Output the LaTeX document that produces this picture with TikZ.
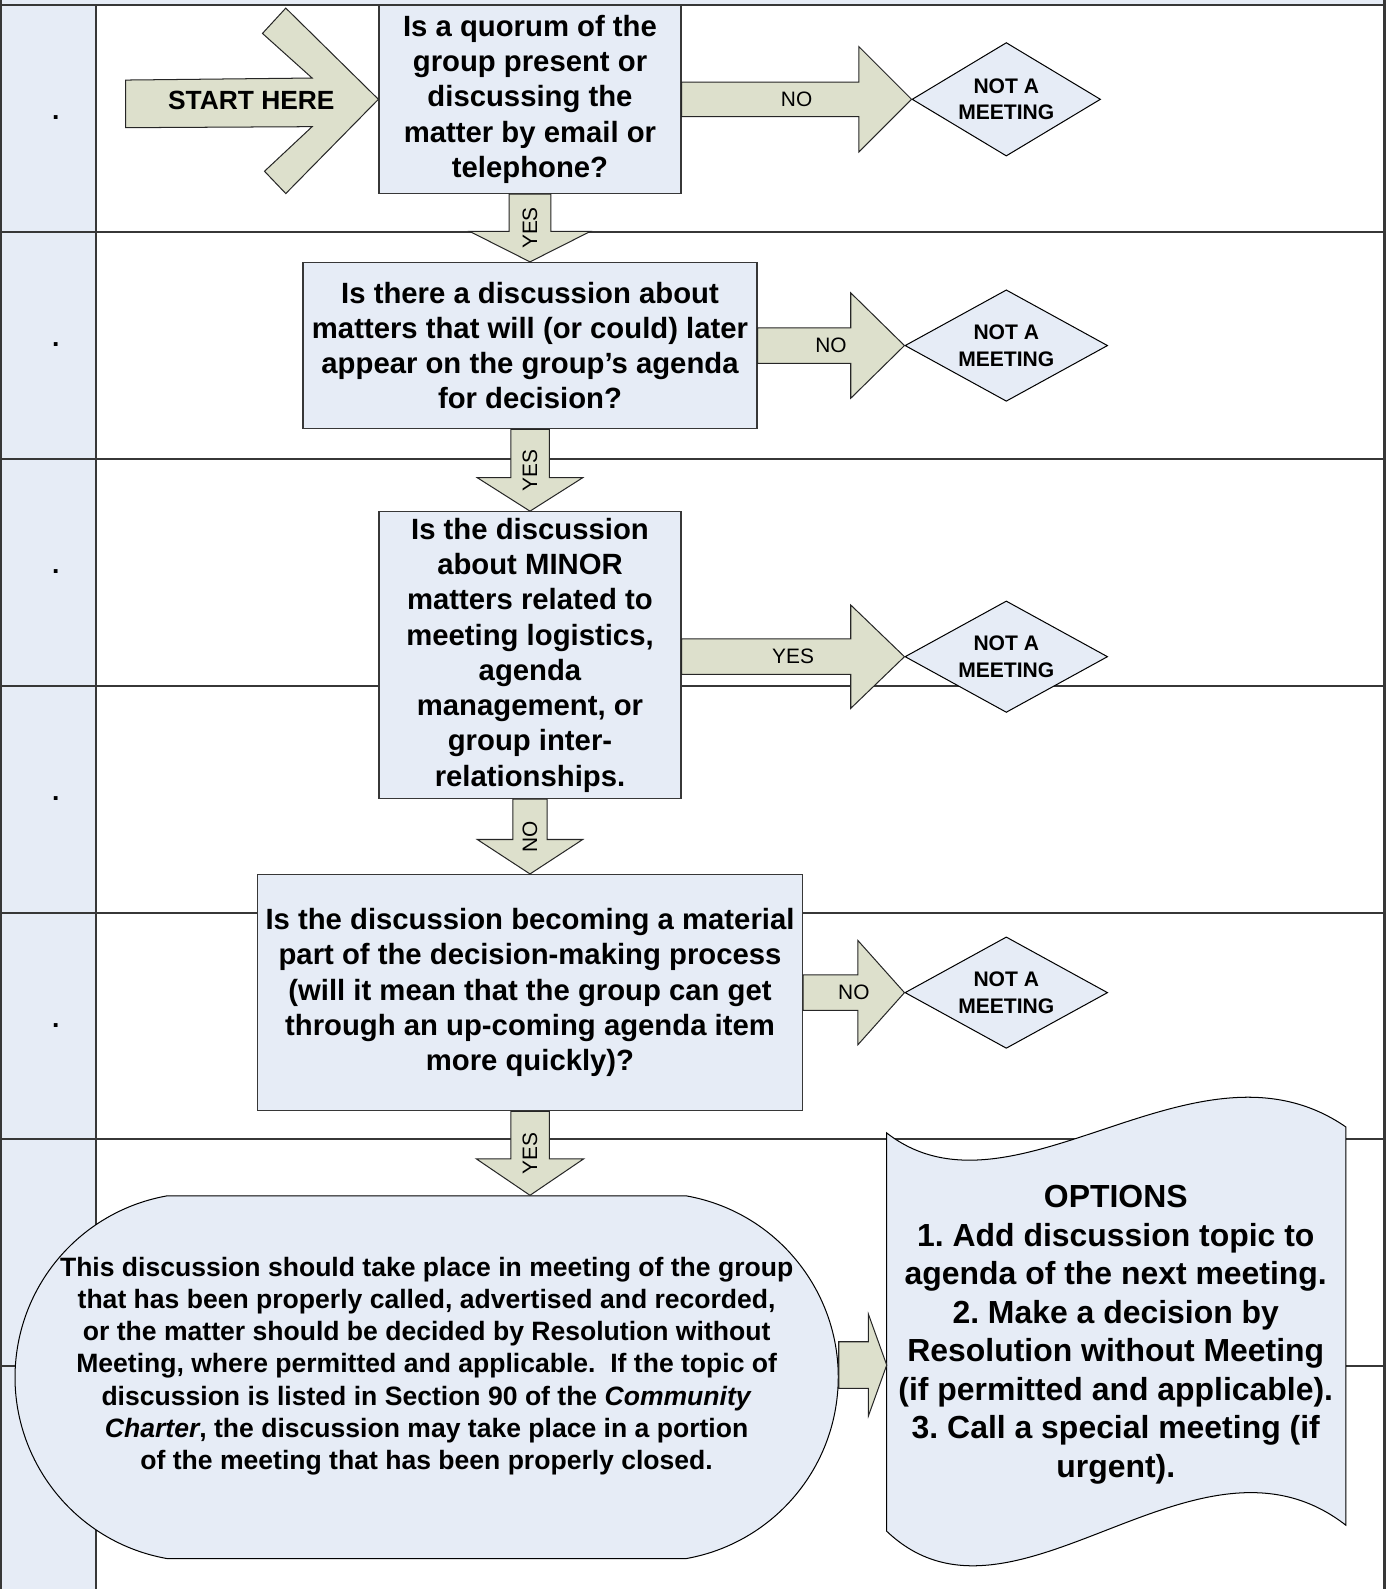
\documentclass[tikz,border=0pt]{standalone}
\usepackage{fontspec}
\setmainfont{Liberation Sans}
\usetikzlibrary{calc,positioning,shapes.geometric,shapes.misc}
\frenchspacing

\definecolor{boxblue}{RGB}{230,236,246}
\definecolor{arrowgreen}{RGB}{221,224,204}
\definecolor{linegray}{RGB}{55,55,55}

% block arrow to the right: name, from, to, shaft, head, head length, label
\newcommand{\rightblock}[7]{%
  \path #2 coordinate (#1s) #3 coordinate (#1t);
  \coordinate (#1u) at (#1s |- #1t);
  \draw[blockarrow] ($(#1u)+(0,-#4)$) -- ($(#1t)+(-#6,-#4)$) -- ($(#1t)+(-#6,-#5)$) -- (#1t)
    -- ($(#1t)+(-#6,#5)$) -- ($(#1t)+(-#6,#4)$) -- ($(#1u)+(0,#4)$) -- cycle;
  \node[flowlabel] (#1) at ($(#1u)!.5!(#1t)$) {#7};
}
% block arrow downwards: name, from, to, shaft, head, head length, label
\newcommand{\downblock}[7]{%
  \path #2 coordinate (#1s) #3 coordinate (#1t);
  \coordinate (#1u) at (#1t |- #1s);
  \draw[blockarrow] ($(#1u)+(-#4,0)$) -- ($(#1t)+(-#4,-#6)$) -- ($(#1t)+(-#5,-#6)$) -- (#1t)
    -- ($(#1t)+(#5,-#6)$) -- ($(#1t)+(#4,-#6)$) -- ($(#1u)+(#4,0)$) -- cycle;
  \node[flowlabel,rotate=90] (#1) at ($(#1u)!.5!(#1t)$) {#7};
}

\begin{document}
\begin{tikzpicture}[x=0.5pt,y=-0.5pt,
  every node/.style={inner sep=.5mm},
  question/.style={draw=linegray,line width=.6pt,fill=boxblue,align=center,
    font=\fontsize{14.45}{17.4}\selectfont\bfseries},
  notmeeting/.style={draw=black,line width=.5pt,fill=boxblue,shape=diamond,shape aspect=1.8,
    inner sep=0pt,align=center,font=\fontsize{10.4}{13}\selectfont\bfseries},
  blockarrow/.style={draw=black!85,line width=.5pt,fill=arrowgreen},
  flowlabel/.style={inner sep=0pt,font=\fontsize{10.3}{12}\selectfont},
  rowline/.style={draw=linegray,line width=.9pt}]

 \useasboundingbox (0,0) rectangle (1371,1568);

 % lanes
 \fill[boxblue] (0,0) rectangle (1366,5);
 \fill[boxblue] (0,5) rectangle (95,1568);
 \foreach \y in {5,229,453,677,901,1124,1348}
  \draw[rowline] (0,\y) -- (1366,\y);
 \draw[rowline] (0.8,0) -- (0.8,1568);
 \draw[rowline] (95,5) -- (95,1568);
 \draw[rowline,line width=1.4pt] (1366,0) -- (1366,1568);
 \foreach \y [count=\i] in {115,339,563,787,1011,1460}
  \node[anchor=base,inner sep=0pt,font=\fontsize{13}{15}\selectfont\bfseries] (dot\i) at (55,\y+3) {.};

 % questions
 \node[question,minimum width=149pt,minimum height=93pt] (q1) at (523,98)
  {Is a quorum of the\\group present or\\discussing the\\matter by email or\\telephone?};
 \node[question,minimum width=224pt,minimum height=82pt] (q2) at (523,341)
  {Is there a discussion about\\matters that will (or could) later\\appear on the group’s agenda\\for decision?};
 \node[question,minimum width=149pt,minimum height=141.5pt] (q3) at (523,646.5)
  {Is the discussion\\about MINOR\\matters related to\\meeting logistics,\\agenda\\management, or\\group inter-\\relationships.};
 \node[question,minimum width=269pt,minimum height=116.5pt] (q4) at (523,979.5)
  {Is the discussion becoming a material\\part of the decision-making process\\(will it mean that the group can get\\through an up-coming agenda item\\more quickly)?};

 \node[notmeeting,minimum width=93pt,minimum height=56pt] (n1) at (993,98) {NOT A\\MEETING};
 \foreach \n/\y in {2/341,3/648,4/979.5}
  \node[notmeeting,minimum width=100pt,minimum height=55pt] (n\n) at (993,\y) {NOT A\\MEETING};

 % start
 \draw[blockarrow] (124,79) -- (308,77) -- (259,33) -- (282,8) -- (q1.west) -- (282,191)
  -- (261,169) -- (308,125) -- (124,126) -- cycle;
 \node[font=\fontsize{13}{15}\selectfont\bfseries] (start) at (248,99) {START HERE};

 % outcome
 \node[draw=black,line width=.5pt,fill=boxblue,rounded rectangle,rounded rectangle arc length=160,
  minimum width=409pt,minimum height=179pt] (term) at (421,1359) {};
 \node[align=center,font=\fontsize{13.1}{15.85}\selectfont\bfseries] (termtxt) at (421,1348)
  {This discussion should take place in meeting of the group\\
   that has been properly called, advertised and recorded,\\
   or the matter should be decided by Resolution without\\
   Meeting, where permitted and applicable.~ If the topic of\\
   discussion is listed in Section 90 of the \textit{Community}\\
   \textit{Charter}, the discussion may take place in a portion\\
   of the meeting that has been properly closed.};

 \draw[line width=.5pt,fill=boxblue] (875,1118) .. controls (1000,1215) and (1180,1010) .. (1328,1112)
  -- (1328,1505) .. controls (1180,1390) and (1000,1630) .. (875,1511) -- cycle;
 \node[align=center,font=\fontsize{15.75}{19}\selectfont\bfseries] (opttxt) at (1101,1317)
  {OPTIONS\\1. Add discussion topic to\\agenda of the next meeting.\\2. Make a decision by\\
   Resolution without Meeting\\(if permitted and applicable).\\3. Call a special meeting (if\\urgent).};
 \coordinate (optin) at (875,1347);

 % arrows
 \downblock{d1}{(q1.south)}{(q2.north)}{20.5}{59.5}{30}{YES}
 \rightblock{r1}{(q1.east)}{(n1.west)}{17}{52}{52}{NO}
 \downblock{d2}{(q2.south)}{(q3.north)}{19}{52}{33}{YES}
 \rightblock{r2}{(q2.east)}{(n2.west)}{17.5}{52}{53}{NO}
 \rightblock{r3}{(q3.east)}{(n3.west)}{17.5}{51}{53}{YES}
 \downblock{d3}{(q3.south)}{(q4.north)}{17}{52}{34}{NO}
 \rightblock{r4}{(q4.east)}{(n4.west)}{17.5}{51.5}{46}{NO}
 \downblock{d4}{(q4.south)}{(q4.south |- term.north)}{19}{53}{36}{YES}
 \rightblock{r5}{(term.east)}{(optin)}{23}{50}{18}{}
\end{tikzpicture}
\end{document}
